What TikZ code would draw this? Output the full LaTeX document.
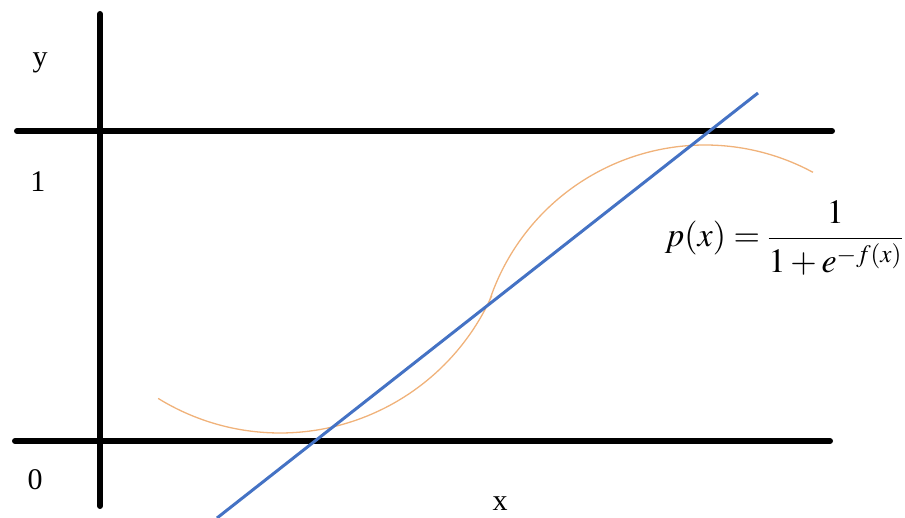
\documentclass[tikz,border=0pt]{standalone}
\usepackage{mathptmx}
\usepackage[no-math]{fontspec}
\setmainfont{Liberation Serif}
\definecolor{curveorange}{HTML}{F0B27A}
\definecolor{lineblue}{HTML}{4472C4}
\begin{document}
\begin{tikzpicture}[x=1pt,y=-1pt,
  axisline/.style={line width=6pt,line cap=round,black},
  lbl/.style={font=\fontsize{30}{36}\selectfont,inner sep=0pt},
  formula/.style={font=\fontsize{34}{40}\selectfont,inner sep=0pt},
  sigcurve/.style={curveorange,line width=1.3pt},
  regline/.style={lineblue,line width=3pt}]
\useasboundingbox (0,0) rectangle (905,518);
% axes
\coordinate (vt) at (100,14);
\coordinate (vb) at (100,506);
\coordinate (h1l) at (17,131);
\coordinate (h1r) at (832,131);
\coordinate (h0l) at (15,441);
\coordinate (h0r) at (830,441);
\draw[axisline] (vt) -- (vb);
\draw[axisline] (h1l) -- (h1r);
\draw[axisline] (h0l) -- (h0r);
% sigmoid-like curve: two circular arcs
\draw[sigcurve] plot[domain=121.7:25.2,samples=60,smooth] ({280+232*cos(\x)},{201+232*sin(\x)})
  -- plot[domain=-161.5:-61.6,samples=60,smooth] ({705+227*cos(\x)},{372+227*sin(\x)});
% regression line
\coordinate (bl) at (217,518);
\coordinate (tr) at (758,93);
\draw[regline] (bl) -- (tr);
% labels
\node[lbl] (ylab) at (40,63) {y};
\node[lbl] (onelab) at (38,182) {1};
\node[lbl] (zerolab) at (35,480) {0};
\node[lbl] (xlab) at (500,504) {x};
\node[formula] (pform) at (784,238) {$p(x)=\displaystyle\frac{1}{1+e^{-f(x)}}$};
\end{tikzpicture}
\end{document}
